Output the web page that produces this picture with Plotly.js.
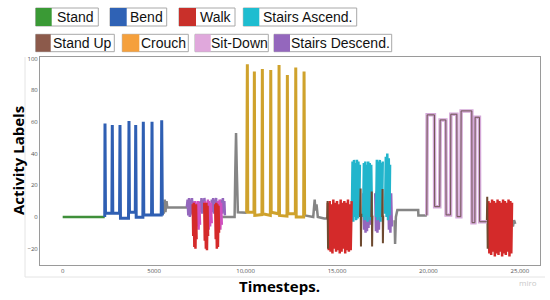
<!DOCTYPE html>
<html><head><meta charset="utf-8">
<script src="https://cdn.plot.ly/plotly-3.0.1.min.js"></script>
<style>html,body{margin:0;padding:0;background:#fff}#chart{width:550px;height:300px}</style>
</head><body><div id="chart"></div>
<script>
// ---------- data ----------
const legendLabels = ['Stand','Bend','Walk','Stairs Ascend.','Stand Up','Crouch','Sit-Down','Stairs Descend.'];
const legendColors = ['#3a9a35','#2f62b5','#c9302a','#1ebdd0','#8c5a4b','#f5a03c','#e0a8dc','#9467bd'];

const xTickVals = [0,5000,10000,15000,20000,25000];
const xTickText = ['0','5000','10,000','15,000','20,000','25,000'];
const yTickVals = [-20,0,20,40,60,80,100];
const yTickText = ['\u221220','0','20','40','60','80','100'];

const standX = [0, 2300];
const standY = [0, 0];

const bendX = [2300,2314,2340,2690,2713,2740,3110,3134,3160,3600,3626,3652,3970,3993,4020,4385,4409,4435,4860,4885,4910,5390,5415,5450];
const bendY = [0,59,2.3,2.3,58,2.3,2.3,58,-0.8,-0.8,60.5,3,3,58,-0.2,-0.2,60,1.3,1.3,60,1.3,1.3,61,1];

const transX = [5450,5500,5530,5580,5620,5680,5720,6800,null,8720,9400,9440,9480,9520,9580,10060,null,13230,13700,13780,13820,13880,13950,14300,14460,null,18150,18177,18220,18300,19440,19450,19911,null,24560,24620,24680,24750];
const transY = [1,9,2,11,3,10,6,6,null,0,0,30,53,30,3,2.7,null,1,0,11,4,8,0,-1,-1,null,-2,-17,0,4.4,4.4,1,1,null,-3,-6,-2,-4.4];

const crouchX = [10060,10098,10120,10460,10481,10505,10895,10918,10942,11355,11378,11402,11810,11832,11856,12265,12286,12310,12722,12745,12770,13176,13199,13230];
const crouchY = [2.7,96.3,3,3,91.7,1,1.5,93.4,2,1,92.7,3,2,95.9,1,0.5,89.6,2,2,94.2,0,0,91.7,1];

const descX = [6790,6830,6870,6910,6950,6990,7030,7070,7110,7150,null,7510,7550,7590,7630,7670,7710,7750,7790,null,8150,8190,8230,8270,8310,8350,8390,8420,null,8600,8640,8680,8720,8760,8800,8840,8870,null,
               16440,16480,16520,16560,16600,16640,16680,16720,16760,16800,null,17090,17130,17170,17210,17250,17290,17330,null,17800,17840,17880,17920,17960,18000];
const descY = [6,11,1,12,0,11,2,12,1,10,null,10,3,12,2,11,3,12,4,null,11,3,12,2,11,4,12,3,null,10,3,11,2,12,3,10,1,null,
               15,-8,16,-10,14,-9,16,-7,15,-5,null,15,-9,16,-10,14,-8,12,null,14,-8,16,-10,15,-6];

const sitBlobX = [7150,7190,7230,7270,7310,7350,7390,7430,7470,7510,null,7780,7820,7860,7900,7940,7980,8020,8060,8100,8150,null,8420,8460,8500,8540,8580,8620,8660,8700];
const sitBlobY = [9,-7,10,-8,9,-6,10,-8,9,-5,null,10,-8,9,-7,11,-8,10,-6,9,-4,null,9,-8,10,-7,11,-8,9,-5];

const walkX = [7110,7140,7170,7200,7230,7260,7290,7320,null,7740,7770,7800,7830,7860,7890,7920,7950,null,8340,8370,8400,8430,8460,8490,8520,8550,null,
  14500,14550,14600,14650,14700,14750,14800,14850,14900,14950,15000,15050,15100,15150,15200,15250,15300,15350,15400,15450,15500,15550,15600,15650,15700,15750,15800,null,
  23280,23330,23380,23430,23480,23530,23580,23630,23680,23730,23780,23830,23880,23930,23980,24030,24080,24130,24180,24230,24280,24330,24380,24430,24480,24530,24570];
const walkY = [8,-12,9,-19,7,-20,8,-14,null,9,-15,8,-20,9,-21,7,-12,null,8,-14,9,-20,8,-19,7,-10,null,
  9,-21,10,-22,8,-23,11,-20,9,-22,10,-21,8,-23,11,-22,9,-20,10,-23,9,-21,11,-22,8,-21,10,null,
  10,-23,9,-24,11,-22,10,-25,9,-23,11,-24,10,-22,9,-25,11,-23,10,-24,9,-22,11,-25,10,-23,9,-24,8];

const ascX = [15810,15850,15890,15930,15970,16010,16050,16090,16130,16170,16210,16250,null,16430,16470,16510,16550,16590,16630,16670,16710,16750,16790,16830,16870,16910,null,17140,17180,17220,17260,17300,17340,17380,17420,17460,17500,null,17630,17670,17710,17750,17790,17830,17870,17900];
const ascY = [-2,35,-3,36,0,34,-2,36,-1,35,1,33,null,0,34,-2,35,1,33,-3,35,0,34,-2,33,1,null,0,36,-2,35,0,36,-3,34,1,35,null,2,38,0,40,-2,37,1,33];

const standUpX = [14460,14485,14510,null,16260,16290,16310,16330,null,16880,16900,16920,16940,null,17470,17490,17510,17530,null,23193,23215,23240];
const standUpY = [-1,10,-20,null,0,18,-18.7,2,null,0,16,-18.7,1,null,0,17.7,-16.6,1,null,-3,12.8,-20];

const sitX = [19911,19930,20327,20340,20620,20639,20951,20965,21210,21224,21552,21565,21770,21787,22372,22385,22540,22553,22788,22800,23193];
const sitY = [1,64.4,64.4,6.5,6.5,61.2,61.2,1.3,1.3,64.8,64.8,0.2,0.2,66.9,66.9,-3.6,-3.6,62.9,62.9,-3,-3];

// ---------- traces ----------
function tr(x,y,color,width,extra){return Object.assign({x:x,y:y,type:'scatter',mode:'lines',line:{color:color,width:width},hoverinfo:'skip',showlegend:false,connectgaps:false},extra||{});}
const data = [
  tr(transX,transY,'#858585',2.5),
  tr(standX,standY,'#3f8f3a',2.5),
  tr(bendX,bendY,'#2f5fb3',3),
  tr(descX,descY,'#9467bd',2.5),
  tr(sitBlobX,sitBlobY,'#d050c0',2.5),
  tr(crouchX,crouchY,'#cfa22c',3),
  tr(ascX,ascY,'#22b5cc',2.5),
  tr(walkX,walkY,'#d42a2a',2.5),
  tr(standUpX,standUpY,'#6e4a30',2),
  tr(sitX,sitY,'#d4a8d8',3.5),
  tr(sitX,sitY,'#6e5552',1)
];

// ---------- layout helpers ----------
const L=40,R=540,T=57,B=265;
const px=v=>(v-L)/(R-L), py=v=>(B-v)/(B-T);
const boxes=[[35.7,98.3,51.7,8,26],[110,166.7,126.7,8,26],[179,235,196,8,26],[243.3,356.7,259.3,8,26],
             [35.7,114.3,50.7,34.3,51.7],[122.3,188.3,139.3,34.3,51.7],[195,268.3,210.7,34.3,51.7],[274,391.7,290,34.3,51.7]];
const shapes=[], annotations=[];
boxes.forEach((b,i)=>{
  shapes.push({type:'rect',xref:'paper',yref:'paper',x0:px(b[0]),x1:px(b[1]),y0:py(b[4]),y1:py(b[3]),line:{color:'#a8a8a8',width:1},fillcolor:'#ffffff'});
  shapes.push({type:'rect',xref:'paper',yref:'paper',x0:px(b[0]),x1:px(b[2]),y0:py(b[4]),y1:py(b[3]),line:{width:0},fillcolor:legendColors[i]});
  annotations.push({xref:'paper',yref:'paper',x:px((b[2]+b[1])/2),y:py((b[3]+b[4])/2),xanchor:'center',yanchor:'middle',showarrow:false,
    text:legendLabels[i],font:{family:'Liberation Sans, Arial, sans-serif',size:14,color:'#111'}});
});
// faint outer frame
shapes.push({type:'line',xref:'paper',yref:'paper',x0:px(25),x1:px(25),y0:py(57),y1:py(277),line:{color:'#e4e4e4',width:1}});
shapes.push({type:'line',xref:'paper',yref:'paper',x0:px(25),x1:px(545),y0:py(277),y1:py(277),line:{color:'#e4e4e4',width:1}});
annotations.push({xref:'paper',yref:'paper',x:px(18),y:py(161),textangle:-90,showarrow:false,xanchor:'center',yanchor:'middle',
  text:'<b>Activity Labels</b>',font:{family:'Open Sans, sans-serif',size:15,color:'#000'}});
annotations.push({xref:'paper',yref:'paper',x:px(279),y:py(286),showarrow:false,xanchor:'center',yanchor:'middle',
  text:'<b>Timesteps.</b>',font:{family:'Open Sans, sans-serif',size:15,color:'#000'}});
annotations.push({xref:'paper',yref:'paper',x:px(528),y:py(282),showarrow:false,xanchor:'center',yanchor:'middle',
  text:'miro',font:{family:'Open Sans, sans-serif',size:8,color:'#c8c8c8'}});

const layout={
  width:550,height:300,margin:{l:L,r:550-R,t:T,b:300-B,pad:0},
  paper_bgcolor:'#fff',plot_bgcolor:'#fff',showlegend:false,
  xaxis:{range:[-1240,26100],showgrid:false,zeroline:false,showline:true,mirror:true,linecolor:'#9a9a9a',linewidth:1,
    ticks:'',tickvals:xTickVals,ticktext:xTickText,tickfont:{family:'Open Sans, sans-serif',size:6,color:'#555'}},
  yaxis:{range:[-30.3,100.9],showgrid:false,zeroline:false,showline:true,mirror:true,linecolor:'#9a9a9a',linewidth:1,
    ticks:'',tickvals:yTickVals,ticktext:yTickText,tickfont:{family:'Open Sans, sans-serif',size:6,color:'#555'}},
  shapes:shapes,annotations:annotations
};
Plotly.newPlot('chart',data,layout,{staticPlot:true,displayModeBar:false});
</script></body></html>
